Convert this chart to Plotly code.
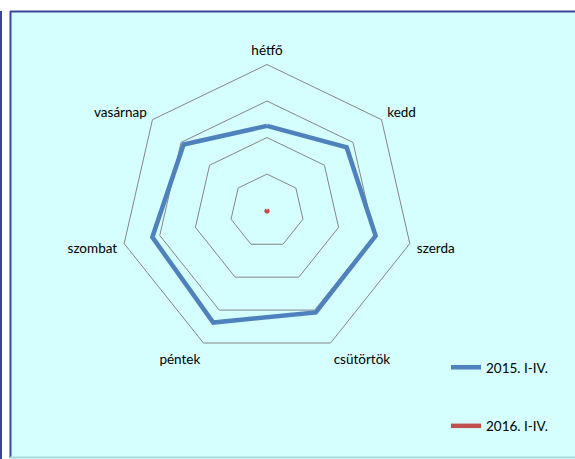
import plotly.graph_objects as go

categories = ["hétfő", "kedd", "szerda", "csütörtök", "péntek", "szombat", "vasárnap"]
series_2015 = [2.32, 2.78, 3.04, 3.07, 3.38, 3.21, 2.91]
series_2016 = [0, 0, 0, 0, 0, 0, 0]
series_names = ["2015. I-IV.", "2016. I-IV."]
radial_ticks = [1, 2, 3, 4]

W, H = 575, 459
FONT = "Lato"

def closed(v):
    return list(v) + [v[0]]

fig = go.Figure()
fig.add_trace(go.Scatterpolar(
    r=closed(series_2015), theta=closed(categories), mode="lines",
    name=series_names[0], legendgroup="a",
    line=dict(color="#4F81BD", width=4.5), hoverinfo="skip"))
fig.add_trace(go.Scatterpolar(
    r=closed(series_2016), theta=closed(categories), mode="lines",
    name=series_names[1], legendgroup="b",
    line=dict(color="#C0504D", width=4.5), hoverinfo="skip"))
fig.add_trace(go.Scatterpolar(
    r=series_2016, theta=categories, mode="markers", showlegend=False,
    cliponaxis=False,
    marker=dict(color="#C0504D", size=7, line=dict(width=0)), hoverinfo="skip"))

cx, cy, R = 267, 211, 146.5
dom_x = [(cx - R) / W, (cx + R) / W]
dom_y = [(H - cy - R) / H, (H - cy + R) / H]

def px(x):
    return x / W

def py(y):
    return 1 - y / H

shapes = [
    dict(type="rect", xref="paper", yref="paper", layer="below",
         x0=px(10), x1=px(600), y0=py(458), y1=py(11),
         fillcolor="#D5FEFE", line=dict(width=0)),
    dict(type="line", xref="paper", yref="paper", layer="below",
         x0=px(10), x1=px(600), y0=py(11.5), y1=py(11.5),
         line=dict(color="#3A469A", width=2)),
    dict(type="line", xref="paper", yref="paper", layer="below",
         x0=px(10.5), x1=px(10.5), y0=py(11), y1=py(458),
         line=dict(color="#3A469A", width=2)),
    dict(type="line", xref="paper", yref="paper", layer="below",
         x0=px(10), x1=px(600), y0=py(457.5), y1=py(457.5),
         line=dict(color="#A6DCDC", width=2)),
    dict(type="line", xref="paper", yref="paper", layer="below",
         x0=px(1), x1=px(1), y0=py(11), y1=py(459),
         line=dict(color="#3A469A", width=2)),
]

fig.update_layout(
    width=W, height=H,
    margin=dict(l=0, r=0, t=0, b=0),
    paper_bgcolor="white",
    font=dict(family=FONT, size=13.5, color="#000000"),
    shapes=shapes,
    polar=dict(
        domain=dict(x=dom_x, y=dom_y),
        bgcolor="rgba(0,0,0,0)",
        gridshape="linear",
        radialaxis=dict(range=[-0.01, 4], tickvals=radial_ticks, showticklabels=False,
                        ticks="", showline=False, gridcolor="#868686", gridwidth=1),
        angularaxis=dict(direction="clockwise", rotation=90, showgrid=False,
                         showline=True, linecolor="#868686", linewidth=1,
                         ticks="outside", ticklen=4, tickcolor="rgba(0,0,0,0)",
                         tickfont=dict(family=FONT, size=13.5, color="#000000")),
    ),
    legend=dict(x=px(446), y=py(352), xanchor="left", yanchor="top",
                bgcolor="rgba(0,0,0,0)", tracegroupgap=38,
                font=dict(family=FONT, size=13.5, color="#000000")),
)

fig.write_html(
    "out.html",
    config={"displayModeBar": False},
    post_script="document.body.style.margin='0';document.body.style.overflow='hidden';",
)
